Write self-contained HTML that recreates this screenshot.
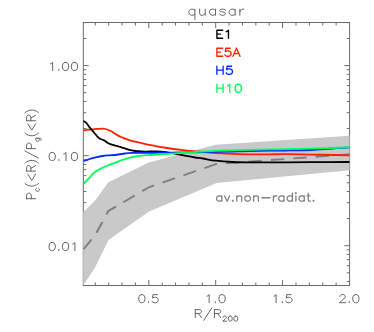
<!DOCTYPE html>
<html><head><meta charset="utf-8"><title>quasar</title>
<style>html,body{margin:0;padding:0;background:#fff;font-family:"Liberation Sans",sans-serif;}svg{display:block}</style></head>
<body>
<svg width="374" height="332" viewBox="0 0 374 332">
<rect width="374" height="332" fill="#fff"/>
<g fill="none" stroke="#6a6a6a" stroke-width="1.00">
<path d="M95.28 285.50 V282.50 M95.28 22.50 V25.50 M108.66 285.50 V282.50 M108.66 22.50 V25.50 M122.04 285.50 V282.50 M122.04 22.50 V25.50 M135.42 285.50 V282.50 M135.42 22.50 V25.50 M148.80 285.50 V279.90 M148.80 22.50 V28.10 M162.18 285.50 V282.50 M162.18 22.50 V25.50 M175.56 285.50 V282.50 M175.56 22.50 V25.50 M188.94 285.50 V282.50 M188.94 22.50 V25.50 M202.32 285.50 V282.50 M202.32 22.50 V25.50 M215.70 285.50 V279.90 M215.70 22.50 V28.10 M229.08 285.50 V282.50 M229.08 22.50 V25.50 M242.46 285.50 V282.50 M242.46 22.50 V25.50 M255.84 285.50 V282.50 M255.84 22.50 V25.50 M269.22 285.50 V282.50 M269.22 22.50 V25.50 M282.60 285.50 V279.90 M282.60 22.50 V28.10 M295.98 285.50 V282.50 M295.98 22.50 V25.50 M309.36 285.50 V282.50 M309.36 22.50 V25.50 M322.74 285.50 V282.50 M322.74 22.50 V25.50 M336.12 285.50 V282.50 M336.12 22.50 V25.50 M349.50 281.53 H346.70 M83.50 272.81 H86.30 M349.50 272.81 H346.70 M83.50 265.68 H86.30 M349.50 265.68 H346.70 M83.50 259.65 H86.30 M349.50 259.65 H346.70 M83.50 254.43 H86.30 M349.50 254.43 H346.70 M83.50 249.82 H86.30 M349.50 249.82 H346.70 M83.50 245.70 H88.70 M349.50 245.70 H344.30 M83.50 218.59 H86.30 M349.50 218.59 H346.70 M83.50 202.74 H86.30 M349.50 202.74 H346.70 M83.50 191.48 H86.30 M349.50 191.48 H346.70 M83.50 182.76 H86.30 M349.50 182.76 H346.70 M83.50 175.63 H86.30 M349.50 175.63 H346.70 M83.50 169.60 H86.30 M349.50 169.60 H346.70 M83.50 164.38 H86.30 M349.50 164.38 H346.70 M83.50 159.77 H86.30 M349.50 159.77 H346.70 M83.50 155.65 H88.70 M349.50 155.65 H344.30 M83.50 128.54 H86.30 M349.50 128.54 H346.70 M83.50 112.69 H86.30 M349.50 112.69 H346.70 M83.50 101.43 H86.30 M349.50 101.43 H346.70 M83.50 92.71 H86.30 M349.50 92.71 H346.70 M83.50 85.58 H86.30 M349.50 85.58 H346.70 M83.50 79.55 H86.30 M349.50 79.55 H346.70 M83.50 74.33 H86.30 M349.50 74.33 H346.70 M83.50 69.72 H86.30 M349.50 69.72 H346.70 M83.50 65.60 H88.70 M349.50 65.60 H344.30 M83.50 38.49 H86.30 M349.50 38.49 H346.70 M83.50 22.64 H86.30 M349.50 22.64 H346.70"/>
<rect x="83.3" y="22.5" width="266.3" height="263.0"/>
</g>
<polygon points="83.2,212.2 95.5,199.9 108.3,182.2 148.8,162.5 215.7,144.8 349.5,135.7 349.5,170.2 216.7,182.9 149.1,211.4 108.5,240.1 94.9,267.8 83.2,285.5" fill="#c9c9c9"/>
<g transform="scale(1.1125,1)"><polyline points="75.06,249.20 85.66,235.00 97.44,211.00 133.75,187.30 193.89,164.10 314.16,154.30" fill="none" stroke="#808080" stroke-width="1.9" stroke-dasharray="12.1 8.1"/></g>
<path d="M83.50 130.50 C84.25 130.37 86.45 129.90 88.00 129.70 C89.55 129.50 91.20 129.43 92.80 129.30 C94.40 129.17 95.98 129.02 97.60 128.90 C99.22 128.78 101.15 128.58 102.50 128.60 C103.85 128.62 104.63 128.73 105.70 129.00 C106.77 129.27 107.83 129.73 108.90 130.20 C109.97 130.67 110.77 131.02 112.10 131.80 C113.43 132.58 115.30 133.98 116.90 134.90 C118.50 135.82 120.10 136.58 121.70 137.30 C123.30 138.02 124.90 138.62 126.50 139.20 C128.10 139.78 129.88 140.38 131.30 140.80 C132.72 141.22 132.78 141.20 135.00 141.70 C137.22 142.20 141.38 143.13 144.60 143.80 C147.82 144.47 151.08 145.08 154.30 145.70 C157.52 146.32 160.70 146.95 163.90 147.50 C167.10 148.05 170.30 148.55 173.50 149.00 C176.70 149.45 179.52 149.80 183.10 150.20 C186.68 150.60 191.72 151.08 195.00 151.40 C198.28 151.72 199.35 151.83 202.80 152.10 C206.25 152.37 210.70 152.72 215.70 153.00 C220.70 153.28 227.10 153.58 232.80 153.80 C238.50 154.02 243.70 154.22 249.90 154.30 C256.10 154.38 264.08 154.32 270.00 154.30 C275.92 154.28 278.60 154.15 285.40 154.20 C292.20 154.25 302.33 154.47 310.80 154.60 C319.27 154.73 329.75 154.88 336.20 155.00 C342.65 155.12 347.28 155.25 349.50 155.30" fill="none" stroke="#ff2000" stroke-width="1.8" stroke-linejoin="round"/>
<path d="M83.50 120.90 C83.97 121.23 85.35 121.90 86.30 122.90 C87.25 123.90 88.15 125.57 89.20 126.90 C90.25 128.23 91.47 129.57 92.60 130.90 C93.73 132.23 94.85 133.65 96.00 134.90 C97.15 136.15 98.15 137.48 99.50 138.40 C100.85 139.32 102.57 139.55 104.10 140.40 C105.63 141.25 106.98 142.68 108.70 143.50 C110.42 144.32 112.23 144.67 114.40 145.30 C116.57 145.93 119.37 146.58 121.70 147.30 C124.03 148.02 126.18 148.98 128.40 149.60 C130.62 150.22 132.78 150.68 135.00 151.00 C137.22 151.32 138.35 151.42 141.70 151.50 C145.05 151.58 151.88 151.48 155.10 151.50 C158.32 151.52 159.18 151.50 161.00 151.60 C162.82 151.70 163.92 151.80 166.00 152.10 C168.08 152.40 171.18 152.98 173.50 153.40 C175.82 153.82 177.77 154.18 179.90 154.60 C182.03 155.02 183.78 155.42 186.30 155.90 C188.82 156.38 192.25 157.07 195.00 157.50 C197.75 157.93 199.35 157.97 202.80 158.50 C206.25 159.03 210.70 160.12 215.70 160.70 C220.70 161.28 227.10 161.72 232.80 162.00 C238.50 162.28 243.70 162.33 249.90 162.40 C256.10 162.47 264.08 162.42 270.00 162.40 C275.92 162.38 278.60 162.35 285.40 162.30 C292.20 162.25 300.12 162.15 310.80 162.10 C321.48 162.05 343.05 162.02 349.50 162.00" fill="none" stroke="#000" stroke-width="1.8" stroke-linejoin="round"/>
<path d="M83.50 160.90 C84.25 160.68 86.45 160.07 88.00 159.60 C89.55 159.13 91.20 158.53 92.80 158.10 C94.40 157.67 95.98 157.35 97.60 157.00 C99.22 156.65 100.88 156.27 102.50 156.00 C104.12 155.73 105.70 155.53 107.30 155.40 C108.90 155.27 110.23 155.35 112.10 155.20 C113.97 155.05 116.37 154.78 118.50 154.50 C120.63 154.22 122.77 153.77 124.90 153.50 C127.03 153.23 128.55 153.00 131.30 152.90 C134.05 152.80 138.28 152.90 141.40 152.90 C144.52 152.90 146.78 152.95 150.00 152.90 C153.22 152.85 157.13 152.65 160.70 152.60 C164.27 152.55 167.67 152.63 171.40 152.60 C175.13 152.57 179.17 152.45 183.10 152.40 C187.03 152.35 189.57 152.38 195.00 152.30 C200.43 152.22 209.40 152.03 215.70 151.90 C222.00 151.77 227.10 151.63 232.80 151.50 C238.50 151.37 243.70 151.25 249.90 151.10 C256.10 150.95 264.08 150.70 270.00 150.60 C275.92 150.50 278.60 150.60 285.40 150.50 C292.20 150.40 303.77 150.27 310.80 150.00 C317.83 149.73 323.37 149.20 327.60 148.90 C331.83 148.60 332.55 148.47 336.20 148.20 C339.85 147.93 347.28 147.45 349.50 147.30" fill="none" stroke="#0028ff" stroke-width="1.8" stroke-linejoin="round"/>
<path d="M83.50 183.60 C83.98 183.15 85.38 181.88 86.40 180.90 C87.42 179.92 88.53 178.85 89.60 177.70 C90.67 176.55 91.73 175.07 92.80 174.00 C93.87 172.93 94.92 172.07 96.00 171.30 C97.08 170.53 97.95 170.12 99.30 169.40 C100.65 168.68 102.50 167.73 104.10 167.00 C105.70 166.27 107.30 165.62 108.90 165.00 C110.50 164.38 112.10 163.92 113.70 163.30 C115.30 162.68 116.90 161.90 118.50 161.30 C120.10 160.70 121.70 160.23 123.30 159.70 C124.90 159.17 126.23 158.60 128.10 158.10 C129.97 157.60 132.28 157.12 134.50 156.70 C136.72 156.28 138.82 155.88 141.40 155.60 C143.98 155.32 146.78 155.20 150.00 155.00 C153.22 154.80 157.13 154.63 160.70 154.40 C164.27 154.17 167.83 153.87 171.40 153.60 C174.97 153.33 179.00 153.02 182.10 152.80 C185.20 152.58 186.55 152.52 190.00 152.30 C193.45 152.08 198.52 151.73 202.80 151.50 C207.08 151.27 210.70 151.10 215.70 150.90 C220.70 150.70 227.10 150.47 232.80 150.30 C238.50 150.13 243.70 150.05 249.90 149.90 C256.10 149.75 264.08 149.52 270.00 149.40 C275.92 149.28 278.60 149.33 285.40 149.20 C292.20 149.07 303.18 148.80 310.80 148.60 C318.42 148.40 324.65 148.23 331.10 148.00 C337.55 147.77 346.43 147.33 349.50 147.20" fill="none" stroke="#00ff5a" stroke-width="1.8" stroke-linejoin="round"/>
<path d="M141.38 294.62 L140.04 295.00 L139.15 296.15 L138.71 298.08 L138.71 299.24 L139.15 301.16 L140.04 302.31 L141.38 302.70 L142.27 302.70 L143.60 302.31 L144.49 301.16 L144.94 299.24 L144.94 298.08 L144.49 296.15 L143.60 295.00 L142.27 294.62 L141.38 294.62 M148.50 301.93 L148.05 302.31 L148.50 302.70 L148.94 302.31 L148.50 301.93 M157.40 294.62 L152.95 294.62 L152.50 298.08 L152.95 297.69 L154.28 297.31 L155.62 297.31 L156.95 297.69 L157.84 298.46 L158.29 299.62 L158.29 300.39 L157.84 301.55 L156.95 302.31 L155.62 302.70 L154.28 302.70 L152.95 302.31 L152.50 301.93 L152.06 301.16" fill="none" stroke="#5c5c5c" stroke-width="0.95" stroke-linecap="round" stroke-linejoin="round"/>
<path d="M206.94 296.15 L207.83 295.77 L209.17 294.62 L209.17 302.70 M215.40 301.93 L214.95 302.31 L215.40 302.70 L215.84 302.31 L215.40 301.93 M221.63 294.62 L220.29 295.00 L219.40 296.15 L218.96 298.08 L218.96 299.24 L219.40 301.16 L220.29 302.31 L221.63 302.70 L222.52 302.70 L223.85 302.31 L224.74 301.16 L225.19 299.24 L225.19 298.08 L224.74 296.15 L223.85 295.00 L222.52 294.62 L221.63 294.62" fill="none" stroke="#5c5c5c" stroke-width="0.95" stroke-linecap="round" stroke-linejoin="round"/>
<path d="M273.85 296.15 L274.74 295.77 L276.07 294.62 L276.07 302.70 M282.30 301.93 L281.86 302.31 L282.30 302.70 L282.75 302.31 L282.30 301.93 M291.20 294.62 L286.75 294.62 L286.31 298.08 L286.75 297.69 L288.09 297.31 L289.42 297.31 L290.75 297.69 L291.65 298.46 L292.09 299.62 L292.09 300.39 L291.65 301.55 L290.75 302.31 L289.42 302.70 L288.09 302.70 L286.75 302.31 L286.31 301.93 L285.86 301.16" fill="none" stroke="#5c5c5c" stroke-width="0.95" stroke-linecap="round" stroke-linejoin="round"/>
<path d="M339.85 296.54 L339.85 296.15 L340.30 295.38 L340.75 295.00 L341.63 294.62 L343.41 294.62 L344.31 295.00 L344.75 295.38 L345.19 296.15 L345.19 296.93 L344.75 297.69 L343.86 298.85 L339.41 302.70 L345.64 302.70 M349.20 301.93 L348.75 302.31 L349.20 302.70 L349.64 302.31 L349.20 301.93 M355.43 294.62 L354.09 295.00 L353.20 296.15 L352.76 298.08 L352.76 299.24 L353.20 301.16 L354.09 302.31 L355.43 302.70 L356.32 302.70 L357.65 302.31 L358.55 301.16 L358.99 299.24 L358.99 298.08 L358.55 296.15 L357.65 295.00 L356.32 294.62 L355.43 294.62" fill="none" stroke="#5c5c5c" stroke-width="0.95" stroke-linecap="round" stroke-linejoin="round"/>
<path d="M50.42 63.95 L51.31 63.57 L52.65 62.41 L52.65 70.50 M58.88 69.73 L58.43 70.11 L58.88 70.50 L59.32 70.11 L58.88 69.73 M65.11 62.41 L63.77 62.80 L62.88 63.95 L62.44 65.88 L62.44 67.03 L62.88 68.96 L63.77 70.11 L65.11 70.50 L66.00 70.50 L67.33 70.11 L68.22 68.96 L68.67 67.03 L68.67 65.88 L68.22 63.95 L67.33 62.80 L66.00 62.41 L65.11 62.41 M74.01 62.41 L72.67 62.80 L71.78 63.95 L71.34 65.88 L71.34 67.03 L71.78 68.96 L72.67 70.11 L74.01 70.50 L74.90 70.50 L76.23 70.11 L77.12 68.96 L77.57 67.03 L77.57 65.88 L77.12 63.95 L76.23 62.80 L74.90 62.41 L74.01 62.41" fill="none" stroke="#5c5c5c" stroke-width="0.95" stroke-linecap="round" stroke-linejoin="round"/>
<path d="M51.76 152.46 L50.42 152.85 L49.53 154.00 L49.09 155.93 L49.09 157.08 L49.53 159.01 L50.42 160.16 L51.76 160.55 L52.65 160.55 L53.98 160.16 L54.87 159.01 L55.32 157.08 L55.32 155.93 L54.87 154.00 L53.98 152.85 L52.65 152.46 L51.76 152.46 M58.88 159.78 L58.43 160.16 L58.88 160.55 L59.32 160.16 L58.88 159.78 M63.77 154.00 L64.66 153.62 L66.00 152.46 L66.00 160.55 M74.01 152.46 L72.67 152.85 L71.78 154.00 L71.34 155.93 L71.34 157.08 L71.78 159.01 L72.67 160.16 L74.01 160.55 L74.90 160.55 L76.23 160.16 L77.12 159.01 L77.57 157.08 L77.57 155.93 L77.12 154.00 L76.23 152.85 L74.90 152.46 L74.01 152.46" fill="none" stroke="#5c5c5c" stroke-width="0.95" stroke-linecap="round" stroke-linejoin="round"/>
<path d="M51.76 242.51 L50.42 242.90 L49.53 244.06 L49.09 245.98 L49.09 247.13 L49.53 249.06 L50.42 250.22 L51.76 250.60 L52.65 250.60 L53.98 250.22 L54.87 249.06 L55.32 247.13 L55.32 245.98 L54.87 244.06 L53.98 242.90 L52.65 242.51 L51.76 242.51 M58.88 249.83 L58.43 250.22 L58.88 250.60 L59.32 250.22 L58.88 249.83 M65.11 242.51 L63.77 242.90 L62.88 244.06 L62.44 245.98 L62.44 247.13 L62.88 249.06 L63.77 250.22 L65.11 250.60 L66.00 250.60 L67.33 250.22 L68.22 249.06 L68.67 247.13 L68.67 245.98 L68.22 244.06 L67.33 242.90 L66.00 242.51 L65.11 242.51 M72.67 244.06 L73.56 243.67 L74.90 242.51 L74.90 250.60" fill="none" stroke="#5c5c5c" stroke-width="0.95" stroke-linecap="round" stroke-linejoin="round"/>
<path d="M195.28 309.62 L195.28 317.70 M195.28 309.62 L199.28 309.62 L200.62 310.00 L201.06 310.38 L201.51 311.15 L201.51 311.93 L201.06 312.69 L200.62 313.08 L199.28 313.46 L195.28 313.46 M198.40 313.46 L201.51 317.70 M211.75 308.07 L203.74 320.39 M214.41 309.62 L214.41 317.70 M214.41 309.62 L218.42 309.62 L219.75 310.00 L220.20 310.38 L220.65 311.15 L220.65 311.93 L220.20 312.69 L219.75 313.08 L218.42 313.46 L214.41 313.46 M217.53 313.46 L220.65 317.70 M223.08 317.35 L223.08 317.11 L223.36 316.63 L223.64 316.39 L224.19 316.15 L225.29 316.15 L225.84 316.39 L226.12 316.63 L226.39 317.11 L226.39 317.58 L226.12 318.06 L225.57 318.78 L222.81 321.16 L226.67 321.16 M229.98 316.15 L229.15 316.39 L228.60 317.11 L228.33 318.30 L228.33 319.02 L228.60 320.21 L229.15 320.93 L229.98 321.16 L230.53 321.16 L231.36 320.93 L231.91 320.21 L232.19 319.02 L232.19 318.30 L231.91 317.11 L231.36 316.39 L230.53 316.15 L229.98 316.15 M235.50 316.15 L234.67 316.39 L234.12 317.11 L233.84 318.30 L233.84 319.02 L234.12 320.21 L234.67 320.93 L235.50 321.16 L236.05 321.16 L236.88 320.93 L237.43 320.21 L237.71 319.02 L237.71 318.30 L237.43 317.11 L236.88 316.39 L236.05 316.15 L235.50 316.15" fill="none" stroke="#5c5c5c" stroke-width="0.95" stroke-linecap="round" stroke-linejoin="round"/>
<path d="M26.62 198.72 L35.55 198.72 M26.62 198.72 L26.62 195.18 L27.05 194.00 L27.47 193.60 L28.32 193.21 L29.60 193.21 L30.45 193.60 L30.87 194.00 L31.30 195.18 L31.30 198.72 M36.48 188.36 L35.95 188.85 L35.69 189.34 L35.69 190.07 L35.95 190.56 L36.48 191.05 L37.27 191.29 L37.79 191.29 L38.58 191.05 L39.11 190.56 L39.38 190.07 L39.38 189.34 L39.11 188.85 L38.58 188.36 M24.92 183.29 L25.77 184.08 L27.05 184.87 L28.75 185.66 L30.87 186.05 L32.57 186.05 L34.70 185.66 L36.40 184.87 L37.67 184.08 L38.52 183.29 M27.90 174.23 L31.72 180.54 L35.55 174.23 M26.62 171.08 L35.55 171.08 M26.62 171.08 L26.62 167.53 L27.05 166.35 L27.47 165.96 L28.32 165.56 L29.17 165.56 L30.02 165.96 L30.45 166.35 L30.87 167.53 L30.87 171.08 M30.87 168.32 L35.55 165.56 M24.92 163.20 L25.77 162.41 L27.05 161.62 L28.75 160.84 L30.87 160.44 L32.57 160.44 L34.70 160.84 L36.40 161.62 L37.67 162.41 L38.52 163.20 M24.92 150.99 L38.52 158.08 M26.62 148.62 L35.55 148.62 M26.62 148.62 L26.62 145.08 L27.05 143.89 L27.47 143.50 L28.32 143.11 L29.60 143.11 L30.45 143.50 L30.87 143.89 L31.30 145.08 L31.30 148.62 M35.69 138.26 L39.90 138.26 L40.69 138.51 L40.96 138.75 L41.22 139.24 L41.22 139.97 L40.96 140.46 M36.48 138.26 L35.95 138.75 L35.69 139.24 L35.69 139.97 L35.95 140.46 L36.48 140.95 L37.27 141.19 L37.79 141.19 L38.58 140.95 L39.11 140.46 L39.38 139.97 L39.38 139.24 L39.11 138.75 L38.58 138.26 M24.92 132.95 L25.77 133.74 L27.05 134.53 L28.75 135.31 L30.87 135.71 L32.57 135.71 L34.70 135.31 L36.40 134.53 L37.67 133.74 L38.52 132.95 M27.90 123.89 L31.72 130.19 L35.55 123.89 M26.62 120.74 L35.55 120.74 M26.62 120.74 L26.62 117.19 L27.05 116.01 L27.47 115.61 L28.32 115.22 L29.17 115.22 L30.02 115.61 L30.45 116.01 L30.87 117.19 L30.87 120.74 M30.87 117.98 L35.55 115.22 M24.92 112.86 L25.77 112.07 L27.05 111.28 L28.75 110.49 L30.87 110.10 L32.57 110.10 L34.70 110.49 L36.40 111.28 L37.67 112.07 L38.52 112.86" fill="none" stroke="#5c5c5c" stroke-width="0.95" stroke-linecap="round" stroke-linejoin="round"/>
<path d="M194.90 9.16 L194.90 19.36 M194.90 10.46 L193.88 9.59 L192.86 9.16 L191.33 9.16 L190.31 9.59 L189.29 10.46 L188.78 11.77 L188.78 12.64 L189.29 13.95 L190.31 14.81 L191.33 15.25 L192.86 15.25 L193.88 14.81 L194.90 13.95 M199.61 9.16 L199.61 13.51 L200.12 14.81 L201.14 15.25 L202.67 15.25 L203.69 14.81 L205.22 13.51 M205.22 9.16 L205.22 15.25 M215.54 9.16 L215.54 15.25 M215.54 10.46 L214.52 9.59 L213.50 9.16 L211.97 9.16 L210.95 9.59 L209.93 10.46 L209.42 11.77 L209.42 12.64 L209.93 13.95 L210.95 14.81 L211.97 15.25 L213.50 15.25 L214.52 14.81 L215.54 13.95 M225.34 10.46 L224.83 9.59 L223.30 9.16 L221.77 9.16 L220.24 9.59 L219.73 10.46 L220.24 11.34 L221.26 11.77 L223.81 12.21 L224.83 12.64 L225.34 13.51 L225.34 13.95 L224.83 14.81 L223.30 15.25 L221.77 15.25 L220.24 14.81 L219.73 13.95 M235.15 9.16 L235.15 15.25 M235.15 10.46 L234.13 9.59 L233.11 9.16 L231.58 9.16 L230.56 9.59 L229.54 10.46 L229.03 11.77 L229.03 12.64 L229.54 13.95 L230.56 14.81 L231.58 15.25 L233.11 15.25 L234.13 14.81 L235.15 13.95 M239.86 9.16 L239.86 15.25 M239.86 11.77 L240.37 10.46 L241.39 9.59 L242.41 9.16 L243.94 9.16" fill="none" stroke="#5c5c5c" stroke-width="0.95" stroke-linecap="round" stroke-linejoin="round"/>
<path d="M216.88 30.20 L216.88 38.28 M216.88 30.20 L222.66 30.20 M216.88 34.05 L220.44 34.05 M216.88 38.28 L222.66 38.28 M226.22 31.74 L227.12 31.35 L228.45 30.20 L228.45 38.28" fill="none" stroke="#000" stroke-width="1.35" stroke-linecap="round" stroke-linejoin="round"/>
<path d="M216.88 48.21 L216.88 56.29 M216.88 48.21 L222.66 48.21 M216.88 52.06 L220.44 52.06 M216.88 56.29 L222.66 56.29 M230.23 48.21 L225.78 48.21 L225.33 51.67 L225.78 51.29 L227.12 50.90 L228.45 50.90 L229.78 51.29 L230.67 52.06 L231.12 53.21 L231.12 53.98 L230.67 55.14 L229.78 55.91 L228.45 56.29 L227.12 56.29 L225.78 55.91 L225.33 55.52 L224.89 54.75 M236.46 48.21 L232.90 56.29 M236.46 48.21 L240.02 56.29 M234.23 53.60 L238.69 53.60" fill="none" stroke="#ff2000" stroke-width="1.35" stroke-linecap="round" stroke-linejoin="round"/>
<path d="M216.88 66.22 L216.88 74.30 M223.11 66.22 L223.11 74.30 M216.88 70.07 L223.11 70.07 M231.56 66.22 L227.12 66.22 L226.67 69.68 L227.12 69.30 L228.45 68.91 L229.78 68.91 L231.12 69.30 L232.01 70.07 L232.45 71.22 L232.45 71.99 L232.01 73.15 L231.12 73.92 L229.78 74.30 L228.45 74.30 L227.12 73.92 L226.67 73.53 L226.22 72.76" fill="none" stroke="#0028ff" stroke-width="1.35" stroke-linecap="round" stroke-linejoin="round"/>
<path d="M216.88 84.23 L216.88 92.31 M223.11 84.23 L223.11 92.31 M216.88 88.08 L223.11 88.08 M227.56 85.77 L228.45 85.38 L229.78 84.23 L229.78 92.31 M237.79 84.23 L236.46 84.61 L235.57 85.77 L235.12 87.69 L235.12 88.85 L235.57 90.77 L236.46 91.93 L237.79 92.31 L238.69 92.31 L240.02 91.93 L240.91 90.77 L241.35 88.85 L241.35 87.69 L240.91 85.77 L240.02 84.61 L238.69 84.23 L237.79 84.23" fill="none" stroke="#00ff5a" stroke-width="1.35" stroke-linecap="round" stroke-linejoin="round"/>
<path d="M221.81 195.81 L221.81 201.20 M221.81 196.96 L220.93 196.19 L220.05 195.81 L218.73 195.81 L217.85 196.19 L216.96 196.96 L216.52 198.12 L216.52 198.89 L216.96 200.04 L217.85 200.81 L218.73 201.20 L220.05 201.20 L220.93 200.81 L221.81 200.04 M224.46 195.81 L227.11 201.20 M229.75 195.81 L227.11 201.20 M232.84 200.43 L232.40 200.81 L232.84 201.20 L233.28 200.81 L232.84 200.43 M236.81 195.81 L236.81 201.20 M236.81 197.35 L238.13 196.19 L239.01 195.81 L240.34 195.81 L241.22 196.19 L241.66 197.35 L241.66 201.20 M246.95 195.81 L246.07 196.19 L245.19 196.96 L244.75 198.12 L244.75 198.89 L245.19 200.04 L246.07 200.81 L246.95 201.20 L248.27 201.20 L249.16 200.81 L250.04 200.04 L250.48 198.89 L250.48 198.12 L250.04 196.96 L249.16 196.19 L248.27 195.81 L246.95 195.81 M253.57 195.81 L253.57 201.20 M253.57 197.35 L254.89 196.19 L255.77 195.81 L257.09 195.81 L257.98 196.19 L258.42 197.35 L258.42 201.20 M261.95 197.73 L269.88 197.73 M273.41 195.81 L273.41 201.20 M273.41 198.12 L273.85 196.96 L274.74 196.19 L275.62 195.81 L276.94 195.81 M284.00 195.81 L284.00 201.20 M284.00 196.96 L283.11 196.19 L282.23 195.81 L280.91 195.81 L280.03 196.19 L279.14 196.96 L278.70 198.12 L278.70 198.89 L279.14 200.04 L280.03 200.81 L280.91 201.20 L282.23 201.20 L283.11 200.81 L284.00 200.04 M292.38 193.11 L292.38 201.20 M292.38 196.96 L291.49 196.19 L290.61 195.81 L289.29 195.81 L288.41 196.19 L287.52 196.96 L287.08 198.12 L287.08 198.89 L287.52 200.04 L288.41 200.81 L289.29 201.20 L290.61 201.20 L291.49 200.81 L292.38 200.04 M295.46 193.11 L295.90 193.50 L296.34 193.11 L295.90 192.73 L295.46 193.11 M295.90 195.81 L295.90 201.20 M304.28 195.81 L304.28 201.20 M304.28 196.96 L303.40 196.19 L302.52 195.81 L301.19 195.81 L300.31 196.19 L299.43 196.96 L298.99 198.12 L298.99 198.89 L299.43 200.04 L300.31 200.81 L301.19 201.20 L302.52 201.20 L303.40 200.81 L304.28 200.04 M308.25 193.11 L308.25 199.66 L308.69 200.81 L309.57 201.20 L310.46 201.20 M306.93 195.81 L310.01 195.81 M313.54 200.43 L313.10 200.81 L313.54 201.20 L313.98 200.81 L313.54 200.43" fill="none" stroke="#808080" stroke-width="1.30" stroke-linecap="round" stroke-linejoin="round"/>
</svg>
</body></html>
